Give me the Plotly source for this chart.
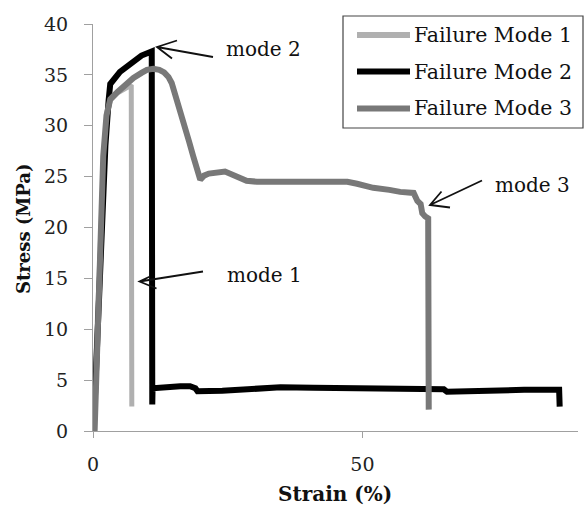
import plotly.graph_objects as go

# ---- data ----
mode1_x = [0.0, 0.6, 1.3, 2.0, 2.6, 3.2, 4.5, 6.0, 7.1, 7.2]
mode1_y = [0.0, 8.0, 19.0, 27.0, 31.0, 32.5, 33.2, 33.7, 34.0, 2.4]

mode2_x = [0.1, 0.8, 1.5, 2.3, 2.9, 3.2, 5.0, 6.9, 9.0, 10.9, 11.0, 11.05, 16.2, 18.0,
           19.0, 19.4, 24.0, 28.6, 34.8, 40.9, 50.0, 62.0, 65.1, 65.7, 70.0, 80.0, 86.5, 86.6]
mode2_y = [0.0, 10.0, 20.0, 28.0, 32.5, 34.1, 35.3, 36.1, 36.9, 37.3, 2.6, 4.2, 4.4, 4.4,
           4.2, 3.9, 3.95, 4.1, 4.3, 4.25, 4.15, 4.12, 4.1, 3.85, 3.95, 4.05, 4.05, 2.4]

mode3_x = [0.3, 0.8, 1.3, 1.9, 2.5, 3.2, 4.5, 6.0, 7.5, 9.0, 10.0, 11.2, 12.3, 13.2, 14.0,
           14.6, 15.2, 15.8, 16.8, 17.8, 18.6, 19.3, 19.9, 20.6, 21.5, 24.5, 25.8, 27.0,
           28.5, 30.4, 40.0, 47.2, 49.0, 52.0, 55.0, 57.0, 59.5, 60.2, 60.8, 61.1, 61.6,
           62.2, 62.3]
mode3_y = [0.0, 8.0, 20.0, 27.0, 31.0, 32.6, 33.3, 34.1, 34.7, 35.2, 35.5, 35.6, 35.5, 35.25,
           34.8, 34.2, 33.2, 32.0, 30.5, 28.5, 27.0, 25.6, 24.7, 25.1, 25.3, 25.5, 25.2, 24.9,
           24.6, 24.5, 24.5, 24.5, 24.3, 23.9, 23.7, 23.5, 23.4, 22.6, 22.3, 21.4, 21.1,
           20.9, 2.1]

series_names = ["Failure Mode 1", "Failure Mode 2", "Failure Mode 3"]
series_colors = ["#b0b0b0", "#000000", "#787878"]
series_widths = [5, 6, 6]

x_ticks = [0, 50]
y_ticks = [0, 5, 10, 15, 20, 25, 30, 35, 40]

FONT = "DejaVu Serif"

# ---- layout geometry (pixels) ----
W, H = 584, 509
L, R, T, B = 93, 578, 24, 431


def PX(p):
    return (p - L) / (R - L)


def PY(p):
    return (B - p) / (B - T)


fig = go.Figure()
for xs, ys, name, col, w in zip([mode1_x, mode2_x, mode3_x], [mode1_y, mode2_y, mode3_y],
                                series_names, series_colors, series_widths):
    fig.add_trace(go.Scatter(x=xs, y=ys, mode="lines", name=name,
                             line=dict(color=col, width=w), showlegend=False))

shapes = []
annotations = []

# manual legend
shapes.append(dict(type="rect", xref="paper", yref="paper",
                   x0=PX(343), x1=PX(583), y0=PY(128), y1=PY(16),
                   line=dict(color="#444444", width=1.2), fillcolor="white", layer="above"))
rows = [35, 71.5, 108.5]
for name, col, yy in zip(series_names, series_colors, rows):
    shapes.append(dict(type="line", xref="paper", yref="paper",
                       x0=PX(357), x1=PX(410), y0=PY(yy), y1=PY(yy),
                       line=dict(color=col, width=6), layer="above"))
    annotations.append(dict(x=PX(412), y=PY(yy), xref="paper", yref="paper", text=name,
                            showarrow=False, xanchor="left", yanchor="middle",
                            font=dict(family=FONT, size=20.5, color="#111111")))

# arrows (open V heads)
arrows = [
    # tail, tip, wing1, wing2
    ((213, 57), (157, 47), (177, 40.5), (172, 58.5)),
    ((482, 180.5), (430, 205), (441.5, 191.5), (450, 207.5)),
    ((203, 271.5), (139.5, 281.5), (150, 276.5), (156.5, 288.5)),
]
for tail, tip, w1, w2 in arrows:
    path = (f"M {PX(tail[0])} {PY(tail[1])} L {PX(tip[0])} {PY(tip[1])} "
            f"M {PX(w1[0])} {PY(w1[1])} L {PX(tip[0])} {PY(tip[1])} L {PX(w2[0])} {PY(w2[1])}")
    shapes.append(dict(type="path", xref="paper", yref="paper", path=path,
                       line=dict(color="#111111", width=1.8)))

labels = [("mode 2", 224, 49), ("mode 3", 493, 185), ("mode 1", 225, 275)]
for txt, lx, ly in labels:
    annotations.append(dict(x=PX(lx), y=PY(ly), xref="paper", yref="paper", text=txt,
                            showarrow=False, xanchor="left", yanchor="middle",
                            font=dict(family=FONT, size=20, color="#111111")))

# axis titles
annotations.append(dict(x=PX(335), y=PY(494), xref="paper", yref="paper",
                        text="<b>Strain (%)</b>", showarrow=False,
                        xanchor="center", yanchor="middle",
                        font=dict(family=FONT, size=20, color="#111111")))
annotations.append(dict(x=PX(23), y=PY(229), xref="paper", yref="paper",
                        text="<b>Stress (MPa)</b>", showarrow=False, textangle=-90,
                        xanchor="center", yanchor="middle",
                        font=dict(family=FONT, size=18, color="#111111")))

fig.update_layout(
    width=W, height=H,
    margin=dict(l=L, r=W - R, t=T, b=H - B),
    paper_bgcolor="white", plot_bgcolor="white",
    shapes=shapes, annotations=annotations,
    showlegend=False,
    xaxis=dict(range=[0, 90], tickvals=x_ticks, ticks="outside", ticklen=6,
               tickcolor="#a0a0a0", showline=True, linecolor="#a0a0a0", linewidth=1,
               showgrid=False, zeroline=False, ticklabelstandoff=10,
               tickfont=dict(family=FONT, size=19, color="#222222")),
    yaxis=dict(range=[0, 40], tickvals=y_ticks, ticks="outside", ticklen=8,
               tickcolor="#a0a0a0", showline=True, linecolor="#a0a0a0", linewidth=1,
               showgrid=False, zeroline=False, ticklabelstandoff=12,
               tickfont=dict(family=FONT, size=19, color="#222222")),
)

fig.write_html("out.html")
